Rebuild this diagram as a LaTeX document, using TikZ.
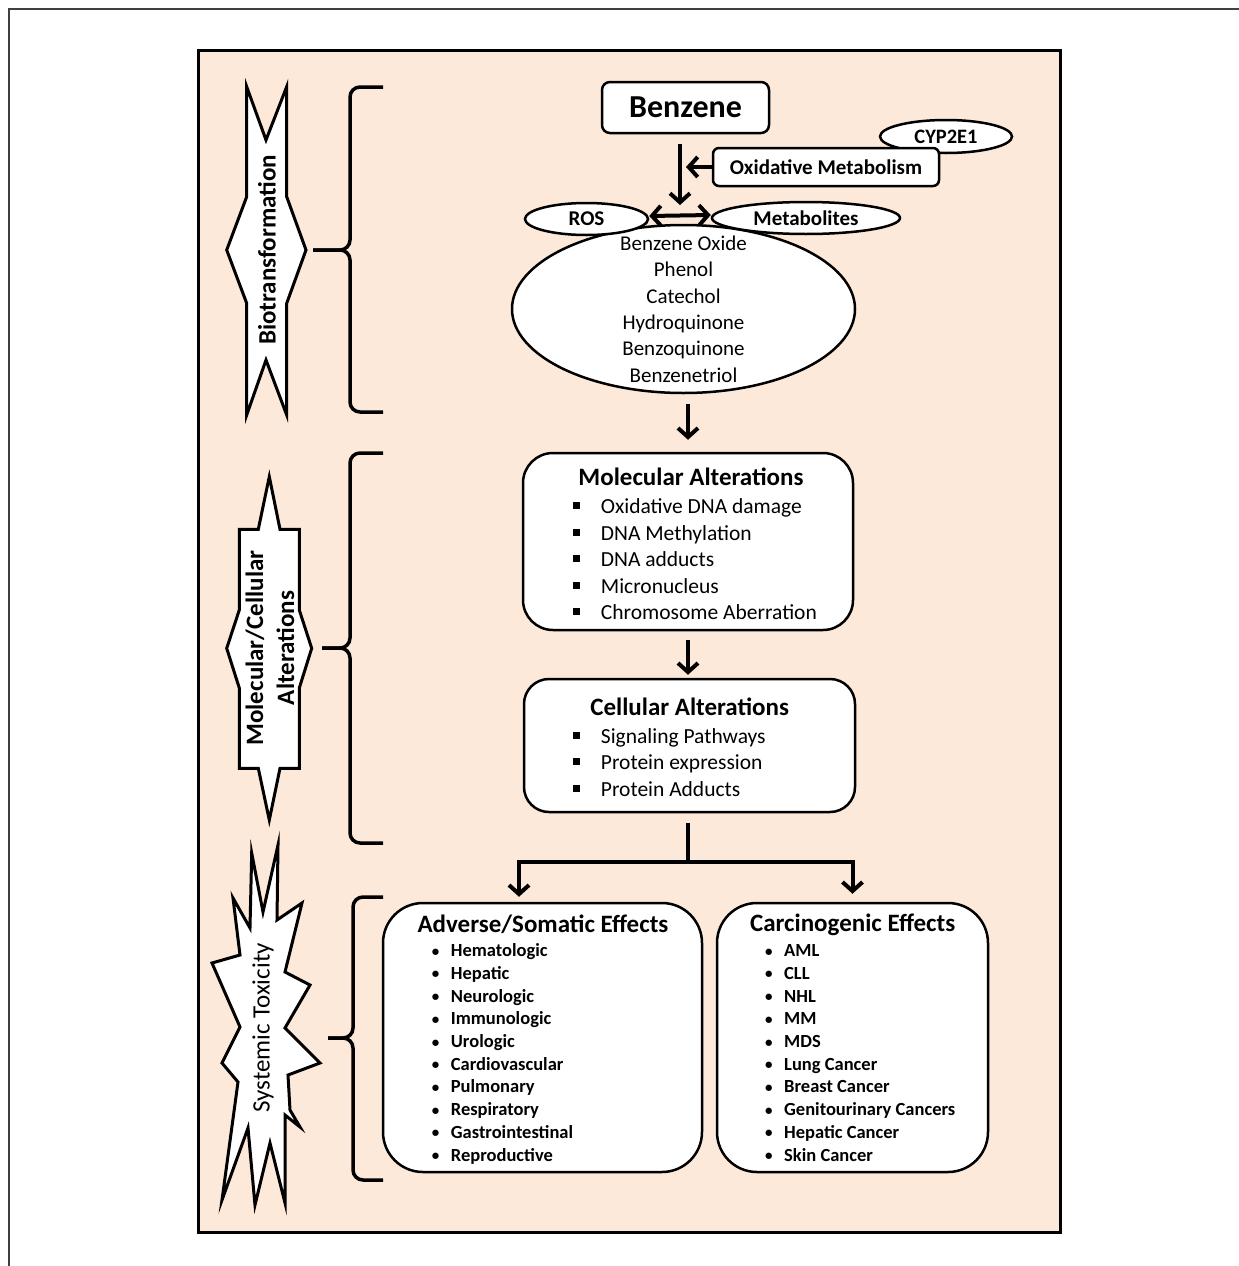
\documentclass[tikz,border=0pt]{standalone}
\usepackage{fontspec}
\setmainfont{Carlito}
\usetikzlibrary{arrows.meta,shapes.geometric,positioning}
\definecolor{peach}{RGB}{253,233,217}
\newcommand{\sqb}{\makebox[28pt][l]{\rule[4.5pt]{7pt}{7pt}}}
\newcommand{\dotb}{\makebox[19pt][l]{\raisebox{0.5pt}{\fontsize{15}{15}\selectfont\textbullet}}}

\begin{document}
\begin{tikzpicture}[x=1pt,y=-1pt]
        \tikzset{box/.style = {draw,fill=white,line width=2.5pt,inner sep=0pt}}
        \tikzset{oval/.style = {shape=ellipse,draw,fill=white,line width=2.5pt,inner sep=0pt}}
        \tikzset{arr/.style = {line width=4pt,-{Straight Barb[length=9pt,width=20pt]}}}
        \tikzset{brace/.style = {line width=3.5pt,rounded corners=10pt}}
        \tikzset{badge/.style = {draw,fill=white,line width=3pt,line join=miter}}
        \tikzset{ttl/.style = {anchor=base,inner sep=0pt,font=\fontsize{25}{30}\selectfont\bfseries}}
        \tikzset{lst/.style = {anchor=base west,align=left,inner sep=0pt,font=\fontsize{21.5}{26.5}\selectfont}}
        \tikzset{fx/.style = {anchor=base west,align=left,inner sep=0pt,font=\fontsize{18.5}{22.7}\selectfont\bfseries}}
        \useasboundingbox (0,0) rectangle (1239,1266);
        \draw[line width=1.5pt,black!75] (9,1266) -- (9,9) -- (1239,9);
        \draw[line width=3pt,fill=peach] (198,50) rectangle (1060,1232);

        \draw[badge] (246.7,86.7) -- (266,140) -- (286.7,86.7) -- (286.7,196.7) -- (306,250)
        -- (286.7,303.3) -- (286.7,415) -- (266,360) -- (246.7,415) -- (246.7,303.3)
        -- (226.7,250) -- (246.7,196.7) -- cycle;
        \node[rotate=90,font=\fontsize{25}{30}\selectfont\bfseries] (bio) at (267,250) {Biotransformation};
        \draw[badge] (269.3,476.7) -- (280,529.3) -- (299.3,529.3) -- (299.3,610) -- (311.7,648.3)
        -- (299.3,688) -- (299.3,768.3) -- (280,768.3) -- (269.3,820) -- (258.3,768.3)
        -- (239.3,768.3) -- (239.3,688) -- (226.7,648.3) -- (239.3,610) -- (239.3,529.3)
        -- (258.3,529.3) -- cycle;
        \node[rotate=90,align=center,font=\fontsize{25}{31}\selectfont\bfseries] (mca) at (270,648) {Molecular/Cellular\\Alterations};
        \draw[badge] (251.7,853) -- (263,912) -- (278,845) -- (277,920) -- (302,903) -- (285,972)
        -- (310,985) -- (285,1028) -- (320,1063) -- (288,1075) -- (290,1110) -- (300,1127)
        -- (285,1115) -- (285,1203) -- (270,1143) -- (255,1205) -- (248,1128) -- (222,1200)
        -- (238,1082) -- (222,1063) -- (240,1027) -- (212,963) -- (240,955) -- (233,898)
        -- (250,928) -- cycle;
        \node[rotate=90,font=\fontsize{25}{30}\selectfont] (sys) at (263,1028) {Systemic Toxicity};

        \draw[brace] (383,87) -- (350,87) -- (350,250) -- (313,250);
        \draw[brace] (383,412) -- (350,412) -- (350,250) -- (313,250);
        \draw[brace] (383,453) -- (350,453) -- (350,648) -- (322,648);
        \draw[brace] (383,843) -- (350,843) -- (350,648) -- (322,648);
        \draw[brace] (383,897) -- (353,897) -- (353,1038) -- (328,1038);
        \draw[brace] (383,1180) -- (353,1180) -- (353,1038) -- (328,1038);

        \node[box,rounded corners=8pt,minimum width=167pt,minimum height=51pt,font=\fontsize{32}{38}\selectfont\bfseries] (benz) at (685.5,107.5) {Benzene};
        \node[oval,minimum width=132pt,minimum height=33pt,font=\fontsize{20.5}{24}\selectfont\bfseries] (cyp) at (946,136.5) {CYP2E1};
        \node[box,rounded corners=6pt,minimum width=226pt,minimum height=38pt,font=\fontsize{21}{25}\selectfont\bfseries] (oxm) at (826,167) {Oxidative Metabolism};
        \node[oval,minimum width=343pt,minimum height=168pt] (prod) at (683.5,309) {};
        \node[align=center,inner sep=0pt,font=\fontsize{21}{26.4}\selectfont] (prodT) at (prod.center) {Benzene Oxide\\Phenol\\Catechol\\Hydroquinone\\Benzoquinone\\Benzenetriol};
        \node[oval,minimum width=123pt,minimum height=32pt,font=\fontsize{21}{25}\selectfont\bfseries] (ros) at (586.5,219) {ROS};
        \node[oval,minimum width=188pt,minimum height=32pt,font=\fontsize{21}{25}\selectfont\bfseries] (met) at (806,218) {Metabolites};
        \coordinate (jn) at (680,205);
        \draw[arr, shorten <=10pt] (benz.south -| jn) -- (jn);
        \draw[arr, shorten >=6pt] (oxm.west) -- (oxm.west -| jn);
        \draw[line width=4pt,{Straight Barb[length=9pt,width=20pt]}-{Straight Barb[length=9pt,width=20pt]}] ([yshift=3pt]ros.east) -- ([yshift=3pt]met.west);

        \node[box,rounded corners=30pt,minimum width=330pt,minimum height=177pt] (mol) at (688,541.5) {};
        \node[ttl] (molT) at (691,485) {Molecular Alterations};
        \node[lst] (molL) at (572.7,619.5) {\sqb Oxidative DNA damage\\ \sqb DNA Methylation\\ \sqb DNA adducts\\ \sqb Micronucleus\\ \sqb Chromosome Aberration};
        \node[box,rounded corners=25pt,minimum width=331pt,minimum height=133pt] (cel) at (689.5,745.5) {};
        \node[ttl] (celT) at (689.7,715) {Cellular Alterations};
        \node[lst] (celL) at (572.7,796) {\sqb Signaling Pathways\\ \sqb Protein expression\\ \sqb Protein Adducts};
        \draw[arr, shorten <=10pt, shorten >=12pt] (prod.south -| mol.north) -- (mol.north);
        \draw[arr, shorten <=9pt, shorten >=3pt] (mol.south) -- (mol.south |- cel.north);

        \node[box,rounded corners=40pt,minimum width=319pt,minimum height=269pt] (adv) at (542.5,1037.5) {};
        \node[ttl] (advT) at (543,932.7) {Adverse/Somatic Effects};
        \node[fx] (advL) at (431.7,1161) {\dotb Hematologic\\ \dotb Hepatic\\ \dotb Neurologic\\ \dotb Immunologic\\ \dotb Urologic\\ \dotb Cardiovascular\\ \dotb Pulmonary\\ \dotb Respiratory\\ \dotb Gastrointestinal\\ \dotb Reproductive};
        \node[box,rounded corners=40pt,minimum width=271pt,minimum height=269pt] (car) at (852.5,1037.5) {};
        \node[ttl] (carT) at (852.7,931.7) {Carcinogenic Effects};
        \node[fx] (carL) at (765,1161) {\dotb AML\\ \dotb CLL\\ \dotb NHL\\ \dotb MM\\ \dotb MDS\\ \dotb Lung Cancer\\ \dotb Breast Cancer\\ \dotb Genitourinary Cancers\\ \dotb Hepatic Cancer\\ \dotb Skin Cancer};
        \coordinate (split) at (688,862);
        \draw[line width=4pt, shorten <=10pt] (cel.south -| split) -- (split);
        \draw[arr, shorten >=5pt] (split) -| ([xshift=-23.5pt]adv.north);
        \draw[arr, shorten >=8pt] (split) -| (car.north);
\end{tikzpicture}
\end{document}
